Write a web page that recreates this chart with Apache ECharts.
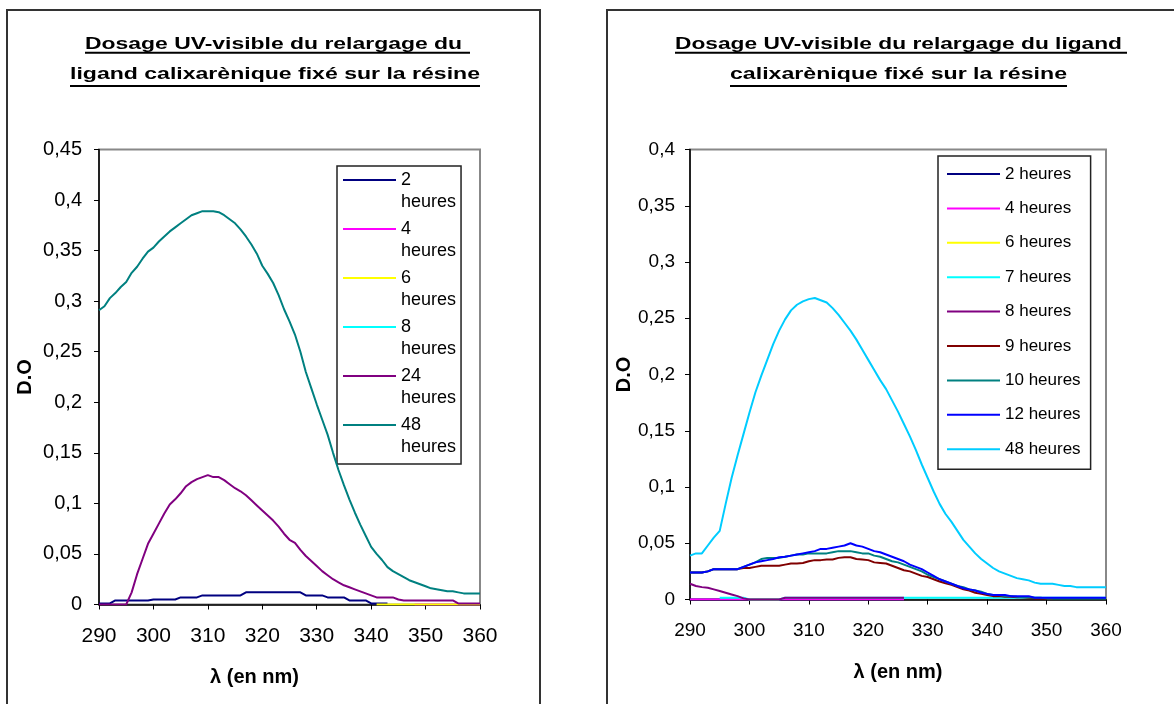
<!DOCTYPE html>
<html><head><meta charset="utf-8">
<script src="https://cdn.jsdelivr.net/npm/echarts@6/dist/echarts.min.js"></script>
<style>
html,body{margin:0;padding:0;background:#fff;width:1174px;height:704px;overflow:hidden}
.c{position:absolute;left:0;top:0;width:1174px;height:704px}
</style></head>
<body>
<div id="leftChart" class="c"></div>
<div id="rightChart" class="c"></div>
<script>
// ---------- DATA ----------
const lambda = [290,291,292,293,294,295,296,297,298,299,
  300,301,302,303,304,305,306,307,308,309,
  310,311,312,313,314,315,316,317,318,319,
  320,321,322,323,324,325,326,327,328,329,
  330,331,332,333,334,335,336,337,338,339,
  340,341,342,343,344,345,346,347,348,349,
  350,351,352,353,354,355,356,357,358,359,360];
const xTicks = [290,300,310,320,330,340,350,360];

// Left chart series
const leftNames = ['2 heures','4 heures','6 heures','8 heures','24 heures','48 heures'];
const L2 = [0.001,0.001,0.001,0.004,0.004,0.004,0.004,0.004,0.004,0.004,
  0.005,0.005,0.005,0.005,0.005,0.007,0.007,0.007,0.007,0.009,
  0.009,0.009,0.009,0.009,0.009,0.009,0.009,0.012,0.012,0.012,
  0.012,0.012,0.012,0.012,0.012,0.012,0.012,0.012,0.009,0.009,
  0.009,0.009,0.007,0.007,0.007,0.007,0.004,0.004,0.004,0.004,
  0.001,0.001,0.001,0.001,null,null,null,null,null,null,
  null,null,null,null,null,null,null,null,null,null,null];
const L4 = [null,null,null,null,null,null,null,null,null,null,
  null,null,null,null,null,null,null,null,null,null,
  null,null,null,null,null,null,null,null,null,null,
  null,null,null,null,null,null,null,null,null,null,
  null,null,null,null,null,null,null,null,null,null,
  null,null,null,null,null,null,null,null,0,0,
  0,0,0,0,0,0,0,0,0,0,0];
const L6 = [null,null,null,null,null,null,null,null,null,null,
  null,null,null,null,null,null,null,null,null,null,
  null,null,null,null,null,null,null,null,null,null,
  null,null,null,null,null,null,null,null,null,null,
  null,null,null,null,null,null,null,null,null,null,
  null,0,0,0,0,0,0,0,0,0,
  0,0,0,0,0,0,0,0,0,0,0];
const L8 = [];
const L24 = [0,0,0,0,0,0,0.012,0.030,0.045,0.060,
  0.070,0.080,0.090,0.099,0.104,0.110,0.117,0.121,0.124,0.126,
  0.128,0.126,0.126,0.123,0.119,0.115,0.112,0.108,0.103,0.098,
  0.093,0.088,0.083,0.077,0.070,0.064,0.061,0.054,0.048,0.043,
  0.038,0.033,0.029,0.025,0.022,0.019,0.017,0.015,0.013,0.011,
  0.009,0.007,0.007,0.007,0.007,0.005,0.004,0.004,0.004,0.004,
  0.004,0.004,0.004,0.004,0.004,0.004,0.001,0.001,0.001,0.001,0.001];
const L48 = [0.291,0.295,0.303,0.308,0.314,0.319,0.328,0.334,0.342,0.349,
  0.353,0.359,0.364,0.369,0.373,0.377,0.381,0.385,0.387,0.389,
  0.389,0.389,0.388,0.385,0.381,0.377,0.371,0.364,0.356,0.347,
  0.335,0.327,0.318,0.306,0.292,0.280,0.267,0.250,0.230,0.214,
  0.198,0.183,0.168,0.150,0.133,0.118,0.104,0.091,0.079,0.068,
  0.057,0.050,0.044,0.037,0.033,0.030,0.027,0.024,0.022,0.020,
  0.018,0.016,0.015,0.014,0.013,0.013,0.012,0.011,0.011,0.011,0.011];
const leftValues = [L2, L4, L6, L8, L24, L48];
const leftColors = ['#000080','#FF00FF','#FFFF00','#00FFFF','#800080','#008080'];
const leftYTicks = [0,0.05,0.1,0.15,0.2,0.25,0.3,0.35,0.4,0.45];

// Right chart series
const rightNames = ['2 heures','4 heures','6 heures','7 heures','8 heures','9 heures','10 heures','12 heures','48 heures'];
const R2 = [0,0,0,0,0,0,0,0,0,0,
  0,0,0,0,0,0,0,0,0,0,
  0,0,0,0,0,0,0,0,0,0,
  0,0,0,0,0,0,0,null,null,null,
  null,null,null,null,null,null,null,null,null,null,
  null,null,null,null,null,null,null,null,null,null,
  null,null,null,null,null,null,null,null,null,null,null];
const R4 = [0,0,0,0,0,0,0,0,0,0,
  0,0,0,0,0,0,0,0,0,0,
  0,0,0,0,0,0,0,0,0,0,
  0,0,0,0,0,0,0,null,null,null,
  null,null,null,null,null,null,null,null,null,null,
  null,null,null,null,null,null,null,null,null,null,
  null,null,null,null,null,null,null,null,null,null,null];
const R6 = [null,null,null,null,null,null,null,null,null,null,
  0,0,0,0,0,0,null,null,null,null,
  null,null,null,null,null,null,null,null,null,null,
  null,null,null,null,null,null,null,null,null,null,
  null,null,null,null,null,null,null,null,null,null,
  null,null,null,null,null,null,null,null,null,null,
  null,null,null,null,null,null,null,null,null,null,null];
const R7 = [null,null,null,null,null,0.0015,0.0015,0.0015,0.0015,0.0015,
  0,0,0,0,0,0,0.0015,0.0015,0.0015,0.0015,
  0.0015,0.0015,0.0015,0.0015,0.0015,0.0015,0.0015,0.0015,0.0015,0.0015,
  0.0015,0.0015,0.0015,0.0015,0.0015,0.0015,0.0015,0.0015,0.0015,0.0015,
  0.0015,0.0015,0.0015,0.0015,0.0015,0.0015,0.0015,0.0015,0.0015,0.0015,
  0.0015,0.0015,0.0015,0.0015,0.0015,0.0015,0.0015,0.0015,0.0015,0.0015,
  0.0015,0.0015,0.0015,0.0015,0.0015,0.0015,0.0015,0.0015,0.0015,0.0015,0.0015];
const R8 = [0.014,0.012,0.011,0.0105,0.009,0.0075,0.006,0.0045,0.003,0.001,
  0,0,0,0,0,0,0.0015,0.0015,0.0015,0.0015,
  0.0015,0.0015,0.0015,0.0015,0.0015,0.0015,0.0015,0.0015,0.0015,0.0015,
  0.0015,0.0015,0.0015,0.0015,0.0015,0.0015,0.0015,null,null,null,
  null,null,null,null,null,null,null,null,null,null,
  null,null,null,null,null,null,null,null,null,null,
  null,null,null,null,null,null,null,null,null,null,null];
const R9 = [0.024,0.024,0.024,0.025,0.027,0.027,0.027,0.027,0.027,0.028,
  0.028,0.029,0.030,0.030,0.030,0.030,0.031,0.032,0.032,0.0325,
  0.034,0.035,0.035,0.0355,0.0355,0.037,0.0376,0.0376,0.036,0.0355,
  0.035,0.033,0.0325,0.032,0.030,0.028,0.026,0.025,0.023,0.021,
  0.020,0.018,0.016,0.0145,0.013,0.011,0.009,0.008,0.006,0.005,
  0.004,0.003,0.003,0.0024,0.0024,0.002,0.002,0.0015,0.001,0.001,
  0.001,0.0005,null,null,null,null,null,null,null,null,null];
const R10 = [0.024,0.024,0.024,0.025,0.027,0.027,0.027,0.027,0.027,0.029,
  0.031,0.033,0.036,0.037,0.037,0.037,0.038,0.039,0.040,0.040,
  0.041,0.041,0.041,0.041,0.042,0.043,0.043,0.043,0.042,0.041,
  0.041,0.039,0.038,0.036,0.034,0.033,0.031,0.029,0.027,0.025,
  0.022,0.020,0.018,0.016,0.014,0.012,0.011,0.009,0.008,0.007,
  0.005,0.004,0.004,0.003,0.003,0.0024,0.002,0.002,0.0015,0.0015,
  0.001,0.001,0.001,0.001,0.001,0.001,0.001,0.001,0.001,0.001,0.001];
const R12 = [0.024,0.024,0.024,0.025,0.027,0.027,0.027,0.027,0.027,0.029,
  0.031,0.033,0.034,0.035,0.036,0.0375,0.038,0.039,0.040,0.041,
  0.042,0.043,0.045,0.045,0.046,0.047,0.048,0.050,0.048,0.047,
  0.045,0.043,0.042,0.040,0.038,0.036,0.034,0.031,0.029,0.027,
  0.024,0.021,0.018,0.016,0.014,0.012,0.010,0.009,0.008,0.006,
  0.005,0.004,0.004,0.004,0.003,0.003,0.003,0.003,0.0015,0.0015,
  0.0015,0.0015,0.0015,0.0015,0.0015,0.0015,0.0015,0.0015,0.0015,0.0015,0.0015];
const R48 = [0.039,0.041,0.041,0.048,0.055,0.061,0.085,0.108,0.128,0.147,
  0.166,0.184,0.199,0.213,0.227,0.239,0.249,0.257,0.262,0.265,
  0.267,0.268,0.266,0.264,0.259,0.253,0.246,0.239,0.231,0.222,
  0.213,0.204,0.195,0.187,0.177,0.167,0.156,0.145,0.133,0.120,
  0.108,0.096,0.085,0.076,0.069,0.061,0.053,0.047,0.041,0.036,
  0.032,0.028,0.025,0.023,0.021,0.019,0.018,0.017,0.015,0.014,
  0.014,0.014,0.013,0.012,0.012,0.011,0.011,0.011,0.011,0.011,0.011];
const rightValues = [R2, R4, R6, R7, R8, R9, R10, R12, R48];
const rightColors = ['#000080','#FF00FF','#FFFF00','#00FFFF','#800080','#800000','#008080','#0000FF','#00CCFF'];
const rightYTicks = [0,0.05,0.1,0.15,0.2,0.25,0.3,0.35,0.4];

const titleLeft = ['Dosage UV-visible du relargage du', 'ligand calixarènique fixé sur la résine'];
const titleRight = ['Dosage UV-visible du relargage du ligand', 'calixarènique fixé sur la résine'];
const xName = 'λ (en nm)';
const yName = 'D.O';

// ---------- HELPERS ----------
const FONT = '"Liberation Sans", Arial, sans-serif';
const ctx = document.createElement('canvas').getContext('2d');
function measure(text, font) { ctx.font = font; return ctx.measureText(text).width; }
function fmtY(v) { return v === 0 ? '0' : String(Math.round(v * 100) / 100).replace('.', ','); }

function titleGraphics(lines, spans, ys, ulY) {
  const els = [];
  const font = 'bold 17px ' + FONT;
  lines.forEach((t, i) => {
    const w = measure(t, font);
    const [x0, x1, u1] = spans[i];
    els.push({type: 'text', x: x0, y: ys[i], scaleX: (x1 - x0) / w,
      style: {text: t, font: font, fill: '#000', align: 'left', verticalAlign: 'middle',
              textAlign: 'left', textVerticalAlign: 'middle'}});
    els.push({type: 'line', shape: {x1: x0, y1: ulY[i], x2: u1, y2: ulY[i]},
      style: {stroke: '#000', lineWidth: 2}});
  });
  return els;
}

function makeSeries(names, values, colors) {
  return names.map((n, k) => ({
    name: n, type: 'line', symbol: 'none', showSymbol: false, connectNulls: false,
    color: colors[k], itemStyle: {color: colors[k]},
    lineStyle: {color: colors[k], width: 2},
    data: lambda.map((x, i) => [x, values[k][i] === undefined ? null : values[k][i]]),
    animation: false, silent: true, z: 2 + k
  }));
}

function axes(opt) {
  return {
    xAxis: {type: 'value', min: 290, max: 360, interval: 10,
      name: xName, nameLocation: 'middle', nameGap: opt.xNameGap,
      nameTextStyle: {fontFamily: FONT, fontSize: 20, fontWeight: 'bold', color: '#000', padding: opt.xNamePad},
      axisLine: {show: true, onZero: false, lineStyle: {color: '#000', width: 1.5}},
      axisTick: {show: true, inside: false, length: 5, lineStyle: {color: '#000', width: 1}},
      axisLabel: {fontFamily: FONT, fontSize: opt.xFont, color: '#000', margin: opt.xMargin,
        formatter: v => String(v)},
      splitLine: {show: false}},
    yAxis: {type: 'value', min: 0, max: opt.yMax, interval: 0.05,
      name: yName, nameLocation: 'middle', nameRotate: 90, nameGap: opt.yNameGap,
      nameTextStyle: {fontFamily: FONT, fontSize: 20, fontWeight: 'bold', color: '#000'},
      axisLine: {show: true, lineStyle: {color: '#000', width: 1.5}},
      axisTick: {show: true, inside: false, length: 5, lineStyle: {color: '#000', width: 1}},
      axisLabel: {fontFamily: FONT, fontSize: opt.yFont, color: '#000', margin: opt.yMargin,
        formatter: fmtY},
      splitLine: {show: false}}
  };
}

// ---------- LEFT CHART ----------
const leftIcon = 'path://M0,0h0.01v0.01h-0.01Z M0,10H53V12H0Z M0,43.99h0.01v0.01h-0.01Z';
const leftChart = echarts.init(document.getElementById('leftChart'), null, {renderer: 'canvas'});
leftChart.setOption(Object.assign({
  animation: false,
  textStyle: {fontFamily: FONT},
  grid: {left: 99, top: 149.5, width: 381, height: 455, show: true, borderColor: '#888', borderWidth: 2, backgroundColor: 'transparent'},
  legend: {
    data: leftNames.map(n => ({name: n, icon: leftIcon})),
    orient: 'vertical', left: 337, top: 166,
    padding: [3, 5, 6, 6], itemGap: 5, itemWidth: 53, itemHeight: 44,
    backgroundColor: '#fff', borderColor: '#222', borderWidth: 1.5,
    itemStyle: {borderWidth: 0},
    formatter: n => n.replace(' ', '\n'),
    textStyle: {fontFamily: FONT, fontSize: 18, lineHeight: 22, color: '#000'},
    selectedMode: false
  },
  graphic: [
    {type: 'rect', shape: {x: 7, y: 10, width: 533, height: 720}, style: {fill: 'none', stroke: '#333', lineWidth: 2}, z: -10}
  ].concat(titleGraphics(titleLeft, [[85, 462, 470], [70, 480, 480]], [44.5, 74.5], [52.7, 86])),
  series: makeSeries(leftNames, leftValues, leftColors)
}, axes({yMax: 0.45, xNameGap: 63, xNamePad: [0, 70, 0, 0], yNameGap: 64, xFont: 21, yFont: 20, xMargin: 21, yMargin: 17})));

// ---------- RIGHT CHART ----------
const rightChart = echarts.init(document.getElementById('rightChart'), null, {renderer: 'canvas'});
rightChart.setOption(Object.assign({
  animation: false,
  textStyle: {fontFamily: FONT},
  grid: {left: 690, top: 149.5, width: 416, height: 450, show: true, borderColor: '#888', borderWidth: 2, backgroundColor: 'transparent'},
  legend: {
    data: rightNames.map(n => ({name: n, icon: 'rect'})),
    orient: 'vertical', left: 938, top: 156,
    padding: [8, 10, 10, 9], itemGap: 14.4, itemWidth: 53, itemHeight: 2,
    backgroundColor: '#fff', borderColor: '#222', borderWidth: 1.5,
    itemStyle: {borderWidth: 0},
    textStyle: {fontFamily: FONT, fontSize: 17, lineHeight: 20, color: '#000'},
    selectedMode: false
  },
  graphic: [
    {type: 'rect', shape: {x: 607, y: 10, width: 600, height: 720}, style: {fill: 'none', stroke: '#333', lineWidth: 2}, z: -10}
  ].concat(titleGraphics(titleRight, [[675, 1122, 1127], [730, 1067, 1067]], [44.5, 74.5], [52.7, 86])),
  series: makeSeries(rightNames, rightValues, rightColors)
}, axes({yMax: 0.4, xNameGap: 63, xNamePad: 0, yNameGap: 50, xFont: 19, yFont: 19, xMargin: 22, yMargin: 15})));
</script>
</body></html>
